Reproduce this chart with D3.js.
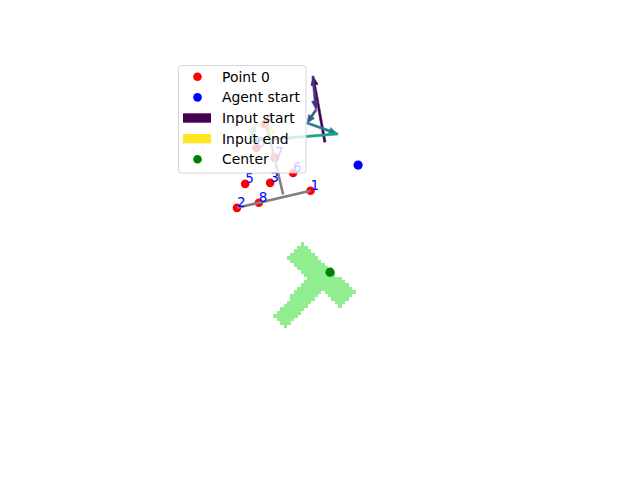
<!DOCTYPE html>
<html>
<head>
<meta charset="utf-8">
<title>T push</title>
<script src="https://d3js.org/d3.v7.min.js"></script>
<style>
  body { margin: 0; background: #fff; }
  text { font-family: "DejaVu Sans", sans-serif; }
</style>
</head>
<body>
<script>
// goal region mask, one row per grid line: [row, firstCol, lastCol]
var maskSpans = [
  [54, 46, 46], [55, 45, 47], [56, 44, 48], [57, 43, 49], [58, 42, 50],
  [59, 43, 51], [60, 44, 52], [61, 45, 53], [62, 46, 54], [63, 47, 55],
  [64, 48, 57], [65, 47, 58], [66, 46, 59], [67, 45, 60],
  [68, 44, 51], [68, 53, 61], [69, 43, 50], [69, 54, 60],
  [70, 43, 49], [70, 55, 59], [71, 42, 48], [71, 56, 58],
  [72, 41, 47], [72, 57, 57], [73, 40, 46], [74, 39, 45],
  [75, 38, 44], [76, 39, 43], [77, 40, 42], [78, 41, 41]
];

// keypoints
var pointLabels = ["0", "1", "2", "3", "4", "5", "6", "7", "8"];
var pointX = [33.1, 48.9, 27.4, 37.1, 35.6, 29.8, 43.8, 38.5, 33.8];
var pointY = [26.4, 38.9, 43.9, 36.6, 19.4, 36.9, 33.7, 29.3, 42.4];

// agent skeleton: [x1, y1, x2, y2]
var skeleton = [
  [27.4, 43.9, 48.9, 38.9],
  [40.9, 40.0, 35.9, 19.1]
];

// input trajectory (arrow chain)
var trajX = [53.1, 49.6, 50.5, 47.9, 56.9, 31.2, 32.7, 38.5, 34.8];
var trajY = [24.7, 5.4, 15.3, 19.1, 22.3, 24.4, 19.4, 21.5, 24.1];

var agentStart = [62.8, 31.4];
var center = [54.6, 62.7];

var legendNames = ["Point 0", "Agent start", "Input start", "Input end", "Center"];

var W = 640, H = 480;
var svg = d3.select("body").append("svg")
  .attr("width", W)
  .attr("height", H);

// equal aspect world, centred in the default axes box
var x = d3.scaleLinear().domain([0, 108]).range([143.2, 512.8]);
var y = d3.scaleLinear().domain([0, 108]).range([57.6, 427.2]);
var cw = x(1) - x(0);

// mask cells
svg.append("g").selectAll("rect")
  .data(maskSpans)
  .enter().append("rect")
  .attr("x", function(d){ return x(d[1]); })
  .attr("y", function(d){ return y(d[0]); })
  .attr("width", function(d){ return x(d[2] + 1) - x(d[1]) + 0.3; })
  .attr("height", cw + 0.3)
  .attr("fill", "#90ee90")
  .attr("shape-rendering", "crispEdges");

// arrows, coloured start -> end
var nArr = trajX.length - 1;
var arrows = [];
for (var i = 0; i < nArr; i++) {
  arrows.push({x1: trajX[i], y1: trajY[i], x2: trajX[i+1], y2: trajY[i+1], k: i / (nArr - 1)});
}
function arrowPath(d) {
  var sx = x(d.x1), sy = y(d.y1), ex = x(d.x2), ey = y(d.y2);
  var L = Math.hypot(ex - sx, ey - sy);
  var ux = (ex - sx) / L, uy = (ey - sy) / L;
  var px = -uy, py = ux;
  var w = 1.1, hw = 3.6, hl = Math.min(9, L * 0.5);
  var bx = ex - ux * hl, by = ey - uy * hl;
  var pts = [
    [sx + px*w, sy + py*w], [bx + px*w, by + py*w], [bx + px*hw, by + py*hw],
    [ex, ey],
    [bx - px*hw, by - py*hw], [bx - px*w, by - py*w], [sx - px*w, sy - py*w]
  ];
  return "M" + pts.map(function(p){ return p[0].toFixed(2) + "," + p[1].toFixed(2); }).join("L") + "Z";
}
svg.append("g").selectAll("path")
  .data(arrows)
  .enter().append("path")
  .attr("d", arrowPath)
  .attr("fill", function(d){ return d3.interpolateViridis(d.k); })
  .attr("stroke", function(d){ return d3.interpolateViridis(d.k); })
  .attr("stroke-width", 0.5);

// keypoints
svg.append("g").selectAll("circle")
  .data(pointX)
  .enter().append("circle")
  .attr("cx", function(d){ return x(d); })
  .attr("cy", function(d, i){ return y(pointY[i]); })
  .attr("r", 4.3)
  .attr("fill", "red");

// skeleton
svg.append("g").selectAll("line")
  .data(skeleton)
  .enter().append("line")
  .attr("x1", function(d){ return x(d[0]); })
  .attr("y1", function(d){ return y(d[1]); })
  .attr("x2", function(d){ return x(d[2]); })
  .attr("y2", function(d){ return y(d[3]); })
  .attr("stroke", "gray")
  .attr("stroke-width", 2.6);

// labels
svg.append("g").selectAll("text")
  .data(pointLabels)
  .enter().append("text")
  .attr("x", function(d, i){ return x(pointX[i]); })
  .attr("y", function(d, i){ return y(pointY[i]) - 1; })
  .attr("fill", "blue")
  .attr("font-size", "13.5px")
  .text(function(d){ return d; });

svg.append("circle")
  .attr("cx", x(agentStart[0])).attr("cy", y(agentStart[1]))
  .attr("r", 4.6).attr("fill", "blue");

svg.append("circle")
  .attr("cx", x(center[0])).attr("cy", y(center[1]))
  .attr("r", 4.6).attr("fill", "green");

// legend
var lg = svg.append("g");
lg.append("rect")
  .attr("x", 178.5).attr("y", 65.5)
  .attr("width", 127.5).attr("height", 107.5)
  .attr("rx", 3)
  .attr("fill", "white").attr("fill-opacity", 0.8)
  .attr("stroke", "#cccccc").attr("stroke-opacity", 0.8);

var rowY = d3.scaleLinear().domain([0, 4]).range([76.7, 159.3]);
var keys = [
  {type: "dot", color: "red"},
  {type: "dot", color: "blue"},
  {type: "box", color: d3.interpolateViridis(0)},
  {type: "box", color: d3.interpolateViridis(1)},
  {type: "dot", color: "green"}
];
keys.forEach(function(k, i){
  var cy = rowY(i);
  if (k.type === "dot") {
    lg.append("circle").attr("cx", 197.5).attr("cy", cy).attr("r", 4.3).attr("fill", k.color);
  } else {
    lg.append("rect").attr("x", 183).attr("y", cy - 4.7)
      .attr("width", 28).attr("height", 9.4).attr("fill", k.color);
  }
  lg.append("text")
    .attr("x", 222).attr("y", cy + 5)
    .attr("font-size", "13.9px")
    .attr("fill", "black")
    .text(legendNames[i]);
});
</script>
</body>
</html>
